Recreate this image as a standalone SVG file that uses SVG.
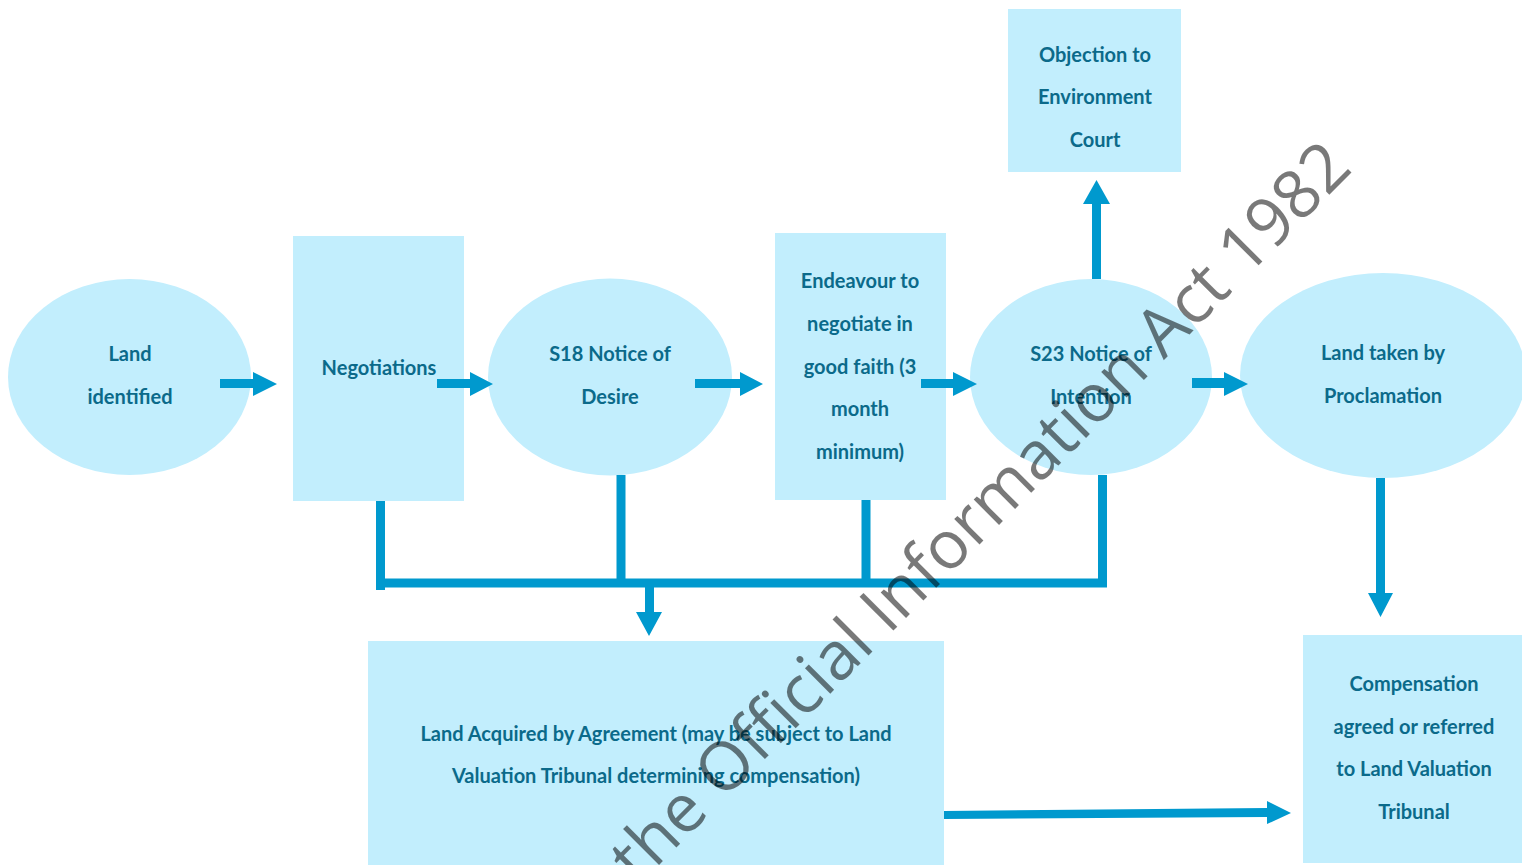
<svg xmlns="http://www.w3.org/2000/svg" width="1522" height="865" viewBox="0 0 1522 865">
<style>
.n{fill:#C2EEFD}
.t{font-family:Lato,"Open Sans","Liberation Sans",sans-serif;font-weight:700;font-size:20px;fill:#0B6A8A;text-anchor:middle;dominant-baseline:central}
.a{fill:#0099CE}
.l{stroke:#0099CE;stroke-width:9;fill:none}
.w{font-family:"Open Sans","Liberation Sans",sans-serif;font-size:67px;fill:#000;opacity:0.52;text-anchor:end}
</style>
<rect width="1522" height="865" fill="#fff"/>
<g id="node-land-identified">
<ellipse class="n" cx="129.5" cy="377" rx="121.5" ry="98"/>
<text class="t" x="130" y="353">Land</text>
<text class="t" x="130" y="396">identified</text>
</g>
<g id="node-negotiations">
<rect class="n" x="293" y="236" width="171" height="265"/>
<text class="t" x="379" y="367">Negotiations</text>
</g>
<g id="node-s18">
<ellipse class="n" cx="610" cy="377" rx="122" ry="98.5"/>
<text class="t" x="610" y="353">S18 Notice of</text>
<text class="t" x="610" y="396">Desire</text>
</g>
<g id="node-endeavour">
<rect class="n" x="775" y="233" width="171" height="267"/>
<text class="t" x="860" y="280">Endeavour to</text>
<text class="t" x="860" y="323">negotiate in</text>
<text class="t" x="860" y="366">good faith (3</text>
<text class="t" x="860" y="408">month</text>
<text class="t" x="860" y="451">minimum)</text>
</g>
<g id="node-s23">
<ellipse class="n" cx="1091" cy="377" rx="121" ry="98"/>
<text class="t" x="1091" y="353">S23 Notice of</text>
<text class="t" x="1091" y="396">Intention</text>
</g>
<g id="node-objection">
<rect class="n" x="1008" y="9" width="173" height="163"/>
<text class="t" x="1095" y="54">Objection to</text>
<text class="t" x="1095" y="96">Environment</text>
<text class="t" x="1095" y="139">Court</text>
</g>
<g id="node-proclamation">
<ellipse class="n" cx="1383" cy="375.5" rx="143" ry="102.5"/>
<text class="t" x="1383" y="352">Land taken by</text>
<text class="t" x="1383" y="395">Proclamation</text>
</g>
<g id="node-agreement">
<rect class="n" x="368" y="641" width="576" height="224"/>
<text class="t" x="656" y="733">Land Acquired by Agreement (may be subject to Land</text>
<text class="t" x="656" y="775">Valuation Tribunal determining compensation)</text>
</g>
<g id="node-compensation">
<rect class="n" x="1303" y="635" width="219" height="228"/>
<text class="t" x="1414" y="683">Compensation</text>
<text class="t" x="1414" y="726">agreed or referred</text>
<text class="t" x="1414" y="768">to Land Valuation</text>
<text class="t" x="1414" y="811">Tribunal</text>
</g>
<g id="connectors">
<polygon class="a" points="220,379 253,379 253,372 277,384 253,396 253,388 220,388"/>
<polygon class="a" points="437,379 470,379 470,372 493,384 470,396 470,388 437,388"/>
<polygon class="a" points="695,379 740,379 740,372 763,384 740,396 740,388 695,388"/>
<polygon class="a" points="921,379 953,379 953,372 977,384 953,396 953,388 921,388"/>
<polygon class="a" points="1192,378 1224,378 1224,372 1248,384 1224,396 1224,388 1192,388"/>
<polygon class="a" points="1092,279 1092,204 1083,204 1096.5,180 1110,204 1101,204 1101,279"/>
<polygon class="a" points="1376,478 1376,593 1368,593 1380.5,617 1393,593 1385,593 1385,478"/>
<polygon class="a" points="645,587 645,612 636,612 649,636 662,612 654,612 654,587"/>
<polygon class="a" points="944,811 1267,808 1267,801 1291,813 1267,824 1267,817 944,819"/>
<path class="l" d="M380.5,501 V590 M621,475 V583 M866,500 V583 M1102.5,475 V587 M376,583 H1107"/>
</g>
<text class="w" transform="translate(1354,170) rotate(-45)">the Official Information Act 1982</text>
</svg>
